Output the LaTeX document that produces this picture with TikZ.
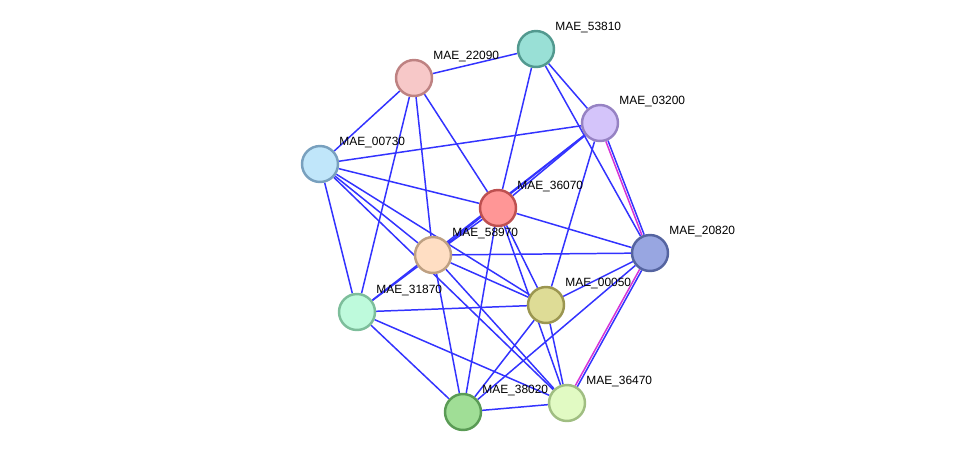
\documentclass[tikz,border=0pt]{standalone}
\usepackage{fontspec}
\setmainfont{Liberation Sans}
\usetikzlibrary{backgrounds}

% node colours (fill / border)
\definecolor{f53810}{RGB}{153,224,214} \definecolor{b53810}{RGB}{82,153,143}
\definecolor{f22090}{RGB}{247,200,200} \definecolor{b22090}{RGB}{190,130,130}
\definecolor{f03200}{RGB}{212,196,250} \definecolor{b03200}{RGB}{150,130,195}
\definecolor{f00730}{RGB}{192,230,250} \definecolor{b00730}{RGB}{120,160,190}
\definecolor{f36070}{RGB}{255,150,150} \definecolor{b36070}{RGB}{190,80,80}
\definecolor{f20820}{RGB}{152,166,225} \definecolor{b20820}{RGB}{85,100,160}
\definecolor{f58970}{RGB}{255,222,195} \definecolor{b58970}{RGB}{190,160,130}
\definecolor{f00050}{RGB}{222,220,150} \definecolor{b00050}{RGB}{155,150,80}
\definecolor{f31870}{RGB}{190,250,220} \definecolor{b31870}{RGB}{125,190,155}
\definecolor{f38020}{RGB}{160,222,150} \definecolor{b38020}{RGB}{90,155,85}
\definecolor{f36470}{RGB}{225,250,195} \definecolor{b36470}{RGB}{160,190,130}
\definecolor{edgeblue}{RGB}{51,51,255}
\definecolor{edgepink}{RGB}{214,51,214}

\tikzset{
    prot/.style={circle, minimum size=0.72cm, inner sep=0pt, line width=1.4pt},
    lbl/.style={anchor=west, inner sep=0pt, font=\fontsize{6.8}{8}\selectfont},
    edge/.style={edgeblue, line width=0.85pt},
    pinkedge/.style={edgepink, line width=0.85pt},
}

\begin{document}
\begin{tikzpicture}[x=0.02cm, y=-0.02cm]
    \useasboundingbox (0,0) rectangle (975,458);

    % Proteins
    \foreach \id/\x/\y in {53810/536/49, 22090/414/78, 03200/600/123, 00730/320/164,
                           36070/498/208, 20820/650/253, 58970/433/255, 00050/546/305,
                           31870/357/312, 38020/463/412, 36470/567/403} {
        \node[prot, fill=f\id, draw=b\id] (n\id) at (\x,\y) {};
        \node[lbl] (l\id) at (\x+19,\y-21) {MAE\_\id};
    }

    % Interactions
    \begin{scope}[on background layer]
        \foreach \a/\b in {53810/22090, 53810/36070, 53810/03200, 53810/20820,
                           22090/00730, 22090/31870, 22090/58970, 22090/36070,
                           00730/03200, 00730/36070, 00730/58970, 00730/00050, 00730/36470, 00730/31870,
                           03200/36070, 03200/58970, 03200/31870, 03200/00050,
                           36070/58970, 36070/20820, 36070/00050, 36070/36470, 36070/38020,
                           58970/20820, 58970/31870, 58970/00050, 58970/36470, 58970/38020,
                           31870/00050, 31870/38020, 31870/36470,
                           00050/20820, 00050/38020, 00050/36470,
                           20820/38020, 38020/36470} {
            \draw[edge] (n\a) -- (n\b);
        }
        % two-colour pairs
        \draw[pinkedge, transform canvas={shift={(-0.6pt,-0.23pt)}}] (n03200) -- (n20820);
        \draw[edge, transform canvas={shift={(0.6pt,0.23pt)}}] (n03200) -- (n20820);
        \draw[pinkedge, transform canvas={shift={(-0.57pt,0.31pt)}}] (n20820) -- (n36470);
        \draw[edge, transform canvas={shift={(0.57pt,-0.31pt)}}] (n20820) -- (n36470);
    \end{scope}
\end{tikzpicture}
\end{document}
